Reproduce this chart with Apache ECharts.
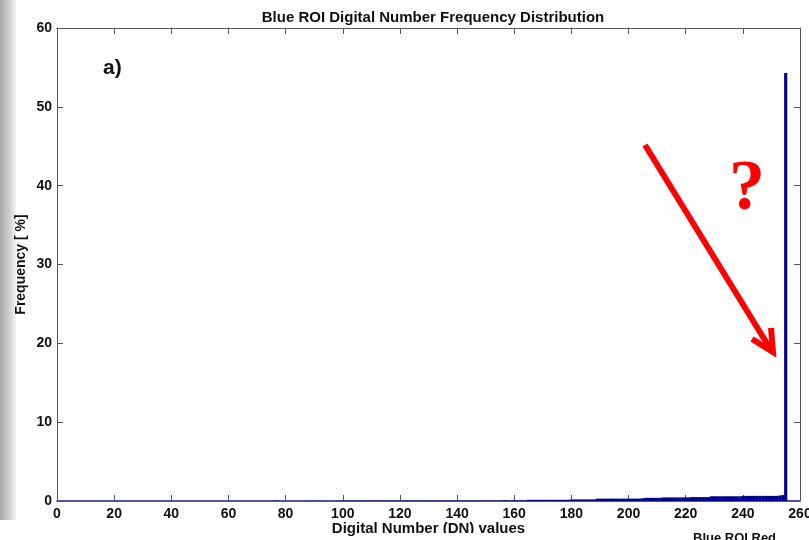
<!DOCTYPE html>
<html><head><meta charset="utf-8">
<script src="https://cdn.jsdelivr.net/npm/echarts@6/dist/echarts.min.js"></script>
<style>html,body{margin:0;padding:0;background:#fff}#c{width:809px;height:540px}</style>
</head><body><div id="c"></div>
<script>
// Digital numbers 0..255 and frequency [%]
const dnStart = 0;
const freq0to75 = [0,0,0,0,0,0,0,0,0,0, 0,0,0,0,0,0,0,0,0,0, 0,0,0,0,0,0,0,0,0,0,
  0,0,0,0,0,0,0,0,0,0, 0,0,0,0,0,0,0,0,0,0, 0,0,0,0,0,0,0,0,0,0,
  0,0,0,0,0,0,0,0,0,0, 0,0,0,0,0,0];
const freq76to103 = [0.03,0.03,0,0,0,0,0,0,0,0,0,0,0.03,0,0.03,0,0.03,0,0,0,0,0,0.03,0.03,0.04,0.03,0.04,0.03];
const freq104to155 = [0.04,0.04,0.04,0.04,0.04,0.04,0.04,0.04,0.04,0.04,
  0.04,0.04,0.04,0.04,0.04,0.04,0.04,0.04,0.04,0.04,
  0.04,0.04,0.04,0.04,0.04,0.04,0.04,0.04,0.04,0.04,
  0.04,0.04,0.04,0.04,0.04,0.04,0.04,0.04,0.04,0.04,
  0.04,0.04,0.04,0.04,0.04,0.04,0.04,0.04,0.04,0.04,
  0.04,0.04];
const freq156to204 = [0.08,0.12,0.05,0.05,0.12,0.06,0.06,0.06,0.06,
  0.15,0.15,0.15,0.15,0.15,0.15,0.15,0.15,0.15,0.15,0.15,0.15,0.15,0.15,0.15,
  0.2,0.2,0.2,0.2,0.2,0.2,0.2,0.2,0.2,
  0.3,0.3,0.3,0.3,0.3,0.3,0.3,0.3,0.3,0.3,0.3,0.3,0.3,0.3,0.3,0.3];
const freq205to255 = [0.35,0.4,0.4,0.4,0.4,0.4,0.4,
  0.45,0.45,0.45,0.45,0.45,0.45,0.45,0.45,0.45,0.45,
  0.5,0.5,0.5,0.5,0.5,0.5,0.5,
  0.6,0.6,0.6,0.6,0.6,0.6,0.6,0.6,0.6,0.6,0.6,
  0.65,0.65,0.65,0.65,0.65,0.65,0.65,0.65,0.65,0.65,0.65,0.65,0.65,
  0.7,0.75,54.3];
const frequency = [].concat(freq0to75, freq76to103, freq104to155, freq156to204, freq205to255);
const xTicks = [0,20,40,60,80,100,120,140,160,180,200,220,240,260];
const yTicks = [0,10,20,30,40,50,60];

const barData = frequency.map((v, i) => [dnStart + i, v]);

const chart = echarts.init(document.getElementById('c'), null, {renderer: 'canvas'});
const font = 'Liberation Sans, Arial, sans-serif';
const axisCol = '#555';
const lbl = {color: '#111', fontWeight: 'bold', fontSize: 14, fontFamily: font};
chart.setOption({
  animation: false,
  backgroundColor: '#fff',
  title: {text: 'Blue ROI Digital Number Frequency Distribution', left: 428, textAlign: 'center', top: 5,
    textStyle: {fontSize: 15, fontWeight: 'bold', color: '#111', fontFamily: font}},
  grid: {left: 57, right: 9, top: 28, bottom: 39, outerBoundsMode: 'none', containLabel: false},
  xAxis: [{
    type: 'value', min: xTicks[0], max: xTicks[xTicks.length-1], interval: 20,
    name: 'Digital Number (DN) values', nameLocation: 'middle', nameGap: 20, nameMoveOverlap: false,
    nameTextStyle: {fontSize: 15, fontWeight: 'bold', color: '#111', fontFamily: font},
    axisLine: {lineStyle: {color: '#1a1a8a', width: 1.5}},
    axisTick: {inside: true, length: 6, lineStyle: {color: axisCol}},
    axisLabel: Object.assign({margin: 6}, lbl),
    splitLine: {show: false}
  }, {
    type: 'value', position: 'top', min: 0, max: 260, interval: 20,
    axisLine: {show: true, onZero: false, lineStyle: {color: axisCol}},
    axisTick: {inside: true, length: 6, lineStyle: {color: axisCol}},
    axisLabel: {show: false}, splitLine: {show: false}
  }],
  yAxis: [{
    type: 'value', min: yTicks[0], max: yTicks[yTicks.length-1], interval: 10,
    name: 'Frequency [ %]', nameLocation: 'middle', nameGap: 29, nameRotate: 90, nameMoveOverlap: false,
    nameTextStyle: {fontSize: 14, fontWeight: 'bold', color: '#111', fontFamily: font},
    axisLine: {show: true, lineStyle: {color: axisCol}},
    axisTick: {show: true, inside: true, length: 6, lineStyle: {color: axisCol}},
    axisLabel: Object.assign({margin: 5}, lbl),
    splitLine: {show: false}
  }, {
    type: 'value', position: 'right', min: 0, max: 60, interval: 10,
    axisLine: {show: true, onZero: false, lineStyle: {color: axisCol}},
    axisTick: {show: true, inside: true, length: 6, lineStyle: {color: axisCol}},
    axisLabel: {show: false}, splitLine: {show: false}
  }],
  series: [{
    type: 'bar', xAxisIndex: 0, yAxisIndex: 0, data: barData,
    barWidth: 3.2, itemStyle: {color: '#00008f'}, silent: true
  }],
  graphic: [
    {type: 'rect', left: 0, top: 0, shape: {width: 16, height: 520},
      style: {fill: new echarts.graphic.LinearGradient(0, 0, 1, 0, [
        {offset: 0, color: '#a9a9a9'}, {offset: 0.6, color: '#d0d0d0'}, {offset: 1, color: '#f4f4f4'}])}, z: -1},
    {type: 'text', left: 103, top: 58, style: {text: 'a)', font: 'bold 21px ' + font, fill: '#111'}},
    {type: 'line', shape: {x1: 645, y1: 145, x2: 771, y2: 350},
      style: {stroke: '#ff0000', lineWidth: 6}},
    {type: 'polyline', shape: {points: [[752, 339], [773, 352], [771, 328]]},
      style: {stroke: '#ff0000', lineWidth: 6, fill: null, lineJoin: 'miter'}},
    {type: 'text', left: 729, top: 154, style: {text: '?', font: 'bold 72px Liberation Serif, serif', fill: '#ff0000'}},
    {type: 'rect', left: 440, top: 533, shape: {width: 250, height: 7}, style: {fill: '#fff'}, z: 100},
    {type: 'text', left: 693, top: 532, style: {text: 'Blue ROI Red', font: 'bold 13px ' + font, fill: '#111'}, z: 101}
  ]
});
</script></body></html>
